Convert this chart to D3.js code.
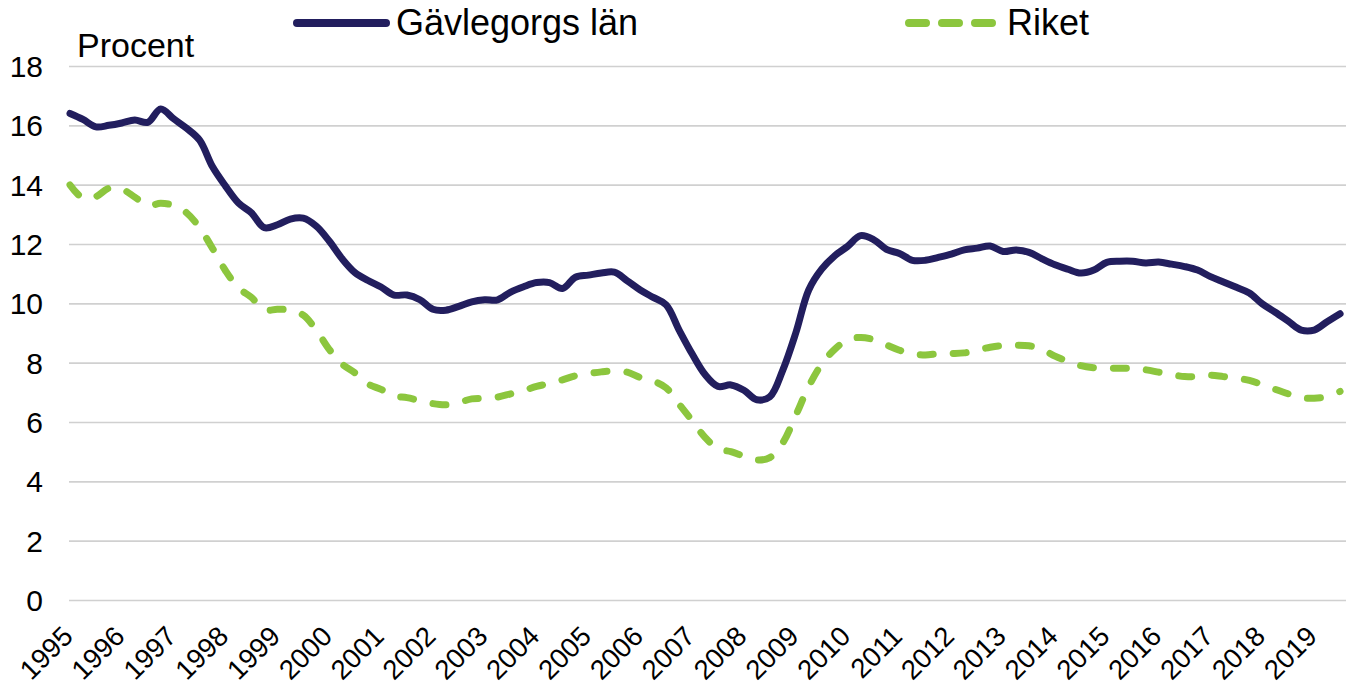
<!DOCTYPE html>
<html>
<head>
<meta charset="utf-8">
<script src="https://cdn.jsdelivr.net/npm/d3@7"></script>
<style>
html, body { margin: 0; padding: 0; background: #ffffff; }
svg { display: block; font-family: "Liberation Sans", Arial, sans-serif; }
</style>
</head>
<body>
<svg id="chart" width="1346" height="691"></svg>
<script>
// ---- Data (quarterly) ----
const yearLabels = ["1995","1996","1997","1998","1999","2000","2001","2002","2003","2004",
  "2005","2006","2007","2008","2009","2010","2011","2012","2013","2014",
  "2015","2016","2017","2018","2019"];
const quarterNames = ["K1","K2","K3","K4"];
const quarterCategories = yearLabels.flatMap(y => quarterNames.map(q => y + q)).slice(0, 99);

const gavleborg = [
  16.40, 16.20, 15.95, 16.00,
  16.08, 16.18, 16.10, 16.55,
  16.22, 15.90, 15.50, 14.60,
  13.95, 13.38, 13.05, 12.55,
  12.65, 12.84, 12.87, 12.60,
  12.10, 11.50, 11.03, 10.77,
  10.55, 10.28, 10.28, 10.12,
   9.80,  9.77,  9.90, 10.05,
  10.12, 10.12, 10.38, 10.56,
  10.70, 10.70, 10.50, 10.88,
  10.95, 11.02, 11.05, 10.76,
  10.45, 10.20,  9.95,  9.10,
   8.30,  7.60,  7.20,  7.25,
   7.07,  6.75,  6.85,  7.75,
   9.00, 10.45, 11.15, 11.60,
  11.92, 12.28, 12.15, 11.82,
  11.68, 11.45, 11.45, 11.55,
  11.66, 11.80, 11.86, 11.93,
  11.75, 11.80, 11.72, 11.50,
  11.30, 11.15, 11.02, 11.12,
  11.38, 11.42, 11.42, 11.36,
  11.39, 11.32, 11.24, 11.12,
  10.90, 10.72, 10.54, 10.35,
   9.98,  9.70,  9.40,  9.10,
   9.10,  9.38,  9.65
];

const riket = [
  13.99, 13.55, 13.60, 13.88,
  13.85, 13.58, 13.30, 13.37,
  13.30, 13.05, 12.55, 11.85,
  11.10, 10.52, 10.20,  9.78,
   9.80,  9.77,  9.60,  9.10,
   8.45,  7.95,  7.65,  7.28,
   7.10,  6.88,  6.82,  6.72,
   6.62,  6.58,  6.66,  6.78,
   6.80,  6.84,  6.95,  7.06,
   7.20,  7.30,  7.42,  7.56,
   7.63,  7.69,  7.72,  7.68,
   7.50,  7.38,  7.15,  6.60,
   6.05,  5.48,  5.10,  5.00,
   4.85,  4.72,  4.80,  5.30,
   6.22,  7.20,  7.95,  8.45,
   8.77,  8.85,  8.78,  8.60,
   8.42,  8.30,  8.26,  8.30,
   8.31,  8.33,  8.43,  8.52,
   8.58,  8.59,  8.57,  8.45,
   8.22,  8.05,  7.90,  7.83,
   7.81,  7.81,  7.81,  7.76,
   7.68,  7.60,  7.53,  7.54,
   7.58,  7.53,  7.48,  7.40,
   7.26,  7.10,  6.95,  6.82,
   6.80,  6.86,  7.03
];

const yTicks = [0, 2, 4, 6, 8, 10, 12, 14, 16, 18];
const seriesNames = ["Gävlegorgs län", "Riket"];
const yAxisTitle = "Procent";

// ---- Layout ----
const svg = d3.select("#chart");
const plotLeft = 69, plotRight = 1346, plotTop = 66, plotBottom = 600;
const navy = "#221e5e", green = "#8cc63e";

const x = d3.scalePoint().domain(quarterCategories).range([70, 70 + 98 * 12.96]);
const y = d3.scaleLinear().domain([0, 18]).range([plotBottom, plotTop]);

// Gridlines + y labels
const yAxis = svg.append("g")
  .attr("transform", `translate(${plotLeft},0)`)
  .call(d3.axisLeft(y).tickValues(yTicks).tickFormat(d3.format("d"))
    .tickSize(-(plotRight - plotLeft)).tickPadding(26));
yAxis.select(".domain").remove();
yAxis.selectAll(".tick line").attr("stroke", "#d0d0d0").attr("stroke-width", 1.6);
yAxis.selectAll(".tick text").attr("font-size", 30).attr("fill", "#000")
  .attr("font-family", "Liberation Sans, Arial, sans-serif").attr("dy", "0.35em");

// X axis labels
const yearTicks = quarterCategories.filter(c => c.endsWith("K1"));
const xAxis = svg.append("g")
  .attr("transform", `translate(0,${plotBottom})`)
  .call(d3.axisBottom(x).tickValues(yearTicks).tickFormat(d => d.slice(0, 4)).tickSize(0));
xAxis.select(".domain").remove();
xAxis.selectAll(".tick text")
  .attr("font-size", 27.5).attr("fill", "#000")
  .attr("font-family", "Liberation Sans, Arial, sans-serif")
  .attr("text-anchor", "end")
  .attr("x", 0).attr("y", 0).attr("dy", 0)
  .attr("transform", "translate(4,38) rotate(-45)");

// Y title
svg.append("text").attr("x", 77).attr("y", 57)
  .attr("font-size", 34).attr("fill", "#000").text(yAxisTitle);

// Lines
const line = d3.line()
  .x((d, i) => x(quarterCategories[i]))
  .y(d => y(d))
  .curve(d3.curveCatmullRom.alpha(0.5));

svg.append("path").datum(riket)
  .attr("d", line).attr("fill", "none")
  .attr("stroke", green).attr("stroke-width", 7)
  .attr("stroke-linecap", "round").attr("stroke-linejoin", "round")
  .attr("stroke-dasharray", "13,20");

svg.append("path").datum(gavleborg)
  .attr("d", line).attr("fill", "none")
  .attr("stroke", navy).attr("stroke-width", 7)
  .attr("stroke-linecap", "round").attr("stroke-linejoin", "round");

// Legend
const legend = svg.append("g");
legend.append("line").attr("x1", 297).attr("x2", 386).attr("y1", 23).attr("y2", 23)
  .attr("stroke", navy).attr("stroke-width", 8).attr("stroke-linecap", "round");
legend.append("text").attr("x", 396).attr("y", 35).attr("font-size", 36)
  .attr("fill", "#000").text(seriesNames[0]);
legend.append("line").attr("x1", 909).attr("x2", 993).attr("y1", 23).attr("y2", 23)
  .attr("stroke", green).attr("stroke-width", 8).attr("stroke-linecap", "round")
  .attr("stroke-dasharray", "17,16");
legend.append("text").attr("x", 1007).attr("y", 35).attr("font-size", 36)
  .attr("fill", "#000").text(seriesNames[1]);
</script>
</body>
</html>
